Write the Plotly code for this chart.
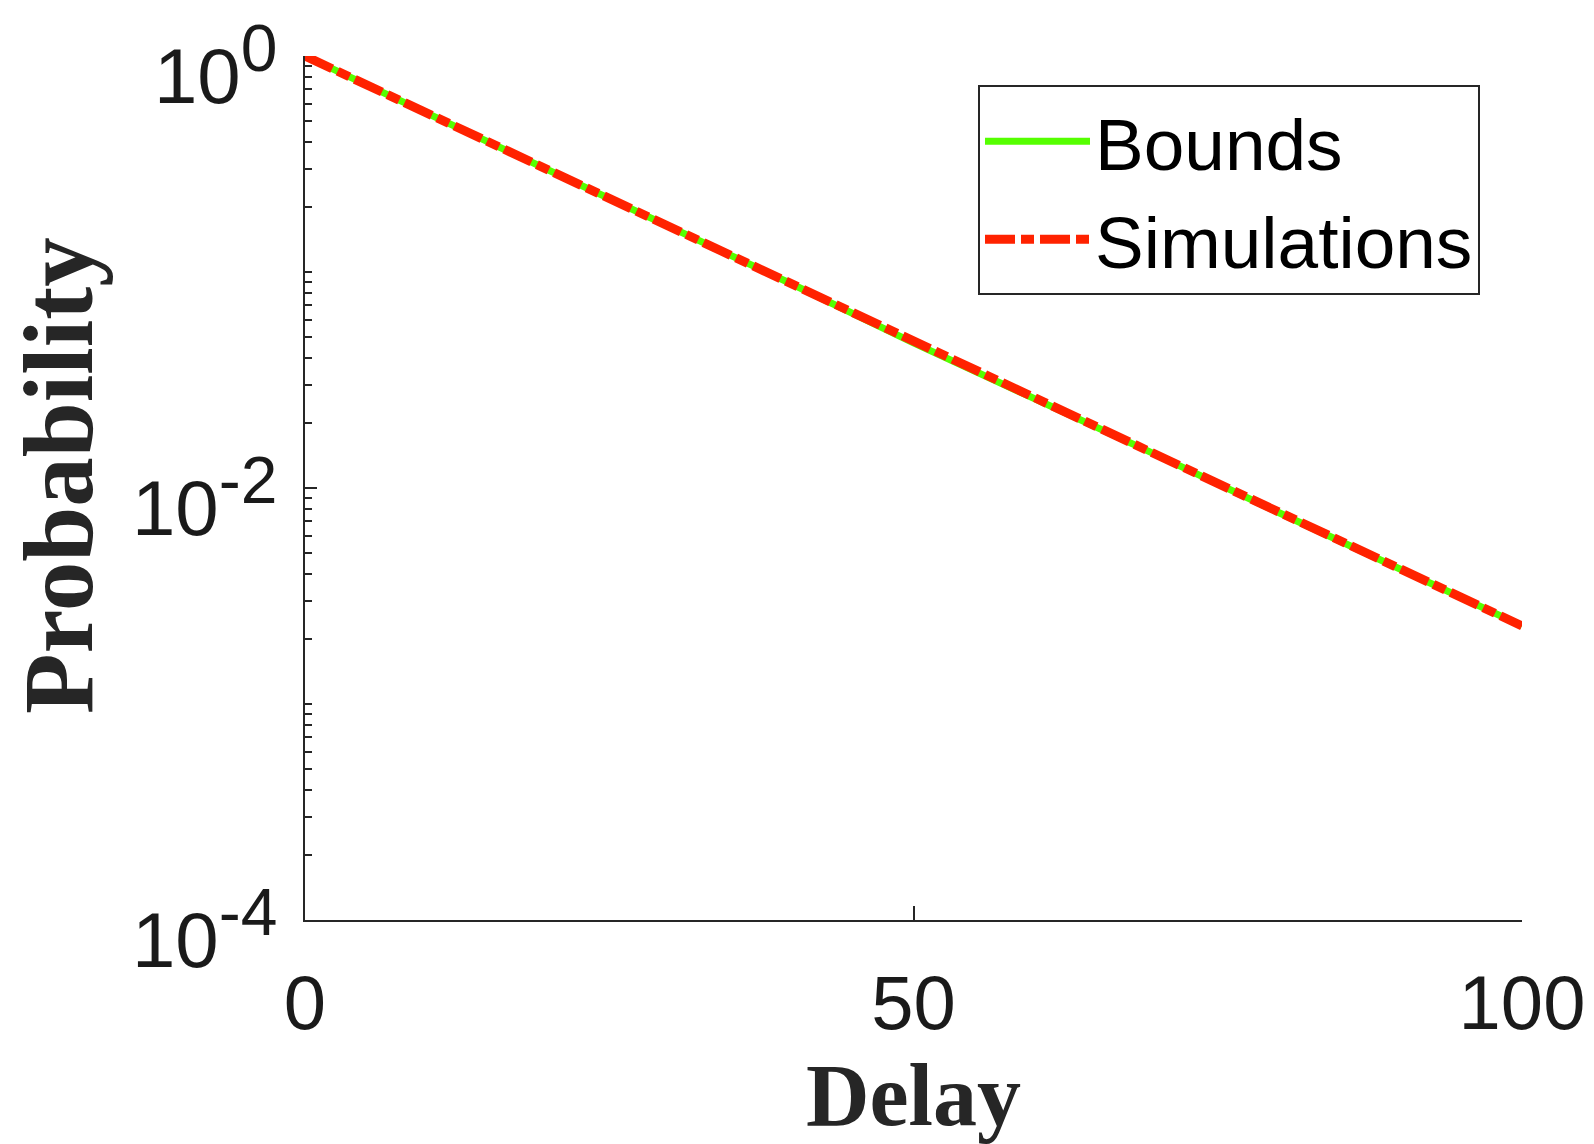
import plotly.graph_objects as go

# Data (delay vs probability, log scale)
delay = [0, 10, 20, 30, 40, 50, 60, 70, 80, 90, 100]
bounds = [1.0, 0.545, 0.297, 0.162, 0.088, 0.047, 0.026, 0.0142, 0.0077, 0.0042, 0.0023]
simulations = [1.0, 0.545, 0.297, 0.162, 0.088, 0.047, 0.026, 0.0142, 0.0077, 0.0042, 0.0023]

y_tickvals = [1, 1e-2, 1e-4]
y_exponents = ["0", "-2", "-4"]
x_tickvals = [0, 50, 100]
x_ticktext = ["0", "50", "100"]

GREEN = "#55FF00"
RED = "#FF2200"
AX = "#262626"
TXT = "#1a1a1a"

y_ticktext = ["10<sup><span style='font-size:66px'>%s</span></sup>" % e for e in y_exponents]

minor_vals = []
for e in [-4, -3, -2, -1]:
    for m in range(1, 10):
        v = m * 10.0 ** e
        if v not in y_tickvals:
            minor_vals.append(v)

fig = go.Figure()
fig.add_trace(go.Scatter(x=delay, y=bounds, mode="lines", name="Bounds",
                         line=dict(color=GREEN, width=7)))
fig.add_trace(go.Scatter(x=delay, y=simulations, mode="lines", name="Simulations",
                         line=dict(color=RED, width=9, dash="30px,6px,13px,6px")))

fig.update_layout(
    width=1594, height=1144,
    margin=dict(l=305, r=72, t=56, b=224),
    plot_bgcolor="white", paper_bgcolor="white",
    font=dict(family="Liberation Sans, Arial", color=TXT),
    showlegend=True,
    legend=dict(x=0.553, y=0.966, xanchor="left", yanchor="top",
                bordercolor=AX, borderwidth=2, bgcolor="white",
                font=dict(size=73, family="Liberation Sans, Arial", color="#000000"),
                itemwidth=105, tracegroupgap=0),
    annotations=[
        dict(text="Delay", xref="paper", yref="paper", x=0.500, y=-0.203,
             xanchor="center", yanchor="middle", showarrow=False,
             font=dict(family="Liberation Serif", size=88, color=AX, weight="bold")),
        dict(text="Probability", xref="paper", yref="paper", x=-0.203, y=0.515,
             xanchor="center", yanchor="middle", showarrow=False, textangle=-90,
             font=dict(family="Liberation Serif", size=99, color=AX, weight="bold")),
    ],
)

fig.update_xaxes(
    range=[0, 100], tickvals=x_tickvals, ticktext=x_ticktext,
    showline=True, linecolor=AX, linewidth=2, mirror=False,
    ticks="inside", ticklen=14, tickwidth=2, tickcolor=AX,
    showgrid=False, zeroline=False, automargin=False,
    tickfont=dict(size=76, color=TXT), ticklabelstandoff=16,
    ticklabeloverflow="allow",
)
fig.update_yaxes(
    type="log", range=[-4, 0], tickvals=y_tickvals, ticktext=y_ticktext,
    showline=True, linecolor=AX, linewidth=2, mirror=False,
    ticks="inside", ticklen=12, tickwidth=2, tickcolor=AX,
    minor=dict(tickvals=minor_vals, ticks="inside", ticklen=7, tickwidth=2, tickcolor=AX, showgrid=False),
    showgrid=False, zeroline=False, automargin=False,
    tickfont=dict(size=78, color=TXT), ticklabelstandoff=10,
    ticklabelshift=20, ticklabeloverflow="allow",
)

fig.write_html("out.html")
